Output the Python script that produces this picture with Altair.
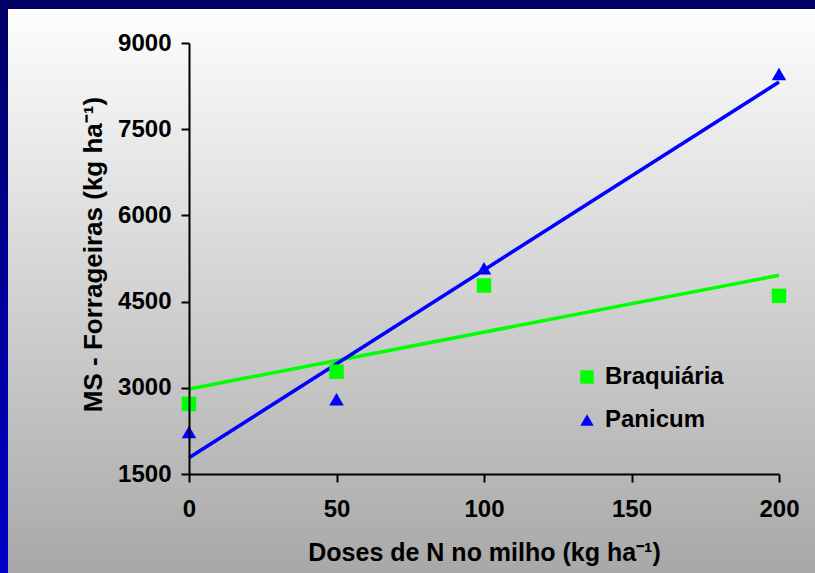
import altair as alt
import pandas as pd

doses = [0, 50, 100, 200]
braquiaria = [2720, 3280, 4780, 4600]
panicum = [2230, 2800, 5080, 8460]
series = ["Braquiária", "Panicum"]
colors = ["#00ff00", "#0000ff"]
shapes = ["square", "triangle-up"]
y_ticks = [1500, 3000, 4500, 6000, 7500, 9000]
x_ticks = [0, 50, 100, 150, 200]

rows = []
for d, v in zip(doses, braquiaria):
    rows.append({"dose": d, "ms": v, "serie": series[0], "cor": colors[0]})
for d, v in zip(doses, panicum):
    rows.append({"dose": d, "ms": v, "serie": series[1], "cor": colors[1]})
df = pd.DataFrame(rows)

FONT = "Liberation Sans"
W, H = 590, 431
PL, PT, PR, PB = 189, 43, 36, 99

one = pd.DataFrame({"a": [0]})

bg = alt.Chart(one).mark_rect(
    color=alt.LinearGradient(
        gradient="linear", x1=0, y1=0, x2=0, y2=1,
        stops=[alt.GradientStop(color="#ffffff", offset=0),
               alt.GradientStop(color="#a8a8a8", offset=1)]
    )
).encode(x=alt.value(-PL), x2=alt.value(W + PR), y=alt.value(-PT), y2=alt.value(H + PB))

top_bar = alt.Chart(one).mark_rect(color="#000066").encode(
    x=alt.value(-PL), x2=alt.value(W + PR), y=alt.value(-PT), y2=alt.value(-PT + 9))

left_bar = alt.Chart(one).mark_rect(
    color=alt.LinearGradient(
        gradient="linear", x1=0, y1=0, x2=0, y2=1,
        stops=[alt.GradientStop(color="#000066", offset=0),
               alt.GradientStop(color="#0000c8", offset=1)]
    )
).encode(x=alt.value(-PL), x2=alt.value(-PL + 8), y=alt.value(-PT), y2=alt.value(H + PB))

xenc = alt.X("dose:Q",
             scale=alt.Scale(domain=[0, 200], nice=False, zero=False),
             axis=alt.Axis(values=x_ticks, title="Doses de N no milho (kg ha⁻¹)", format="d",
                           grid=False, domainColor="black", domainWidth=2, labelFlush=False,
                           tickColor="black", tickWidth=2, tickSize=8, zindex=2,
                           labelFont=FONT, labelFontSize=24, labelFontWeight="bold",
                           labelColor="black", labelPadding=15,
                           titleFont=FONT, titleFontSize=25, titleFontWeight="bold",
                           titleColor="black", titleBaseline="alphabetic", titleY=86))
yenc = alt.Y("ms:Q",
             scale=alt.Scale(domain=[1500, 9000], nice=False, zero=False),
             axis=alt.Axis(values=y_ticks, title="MS - Forrageiras  (kg ha⁻¹)", format="d",
                           grid=False, domainColor="black", domainWidth=2, labelFlush=False,
                           tickColor="black", tickWidth=2, tickSize=8, zindex=2,
                           labelFont=FONT, labelFontSize=24, labelFontWeight="bold",
                           labelColor="black", labelPadding=10,
                           titleFont=FONT, titleFontSize=26, titleFontWeight="bold",
                           titleColor="black", titleAngle=-90, titleBaseline="alphabetic",
                           titleX=-88, titleY=211, titleAlign="center"))

color_scale = alt.Scale(domain=series, range=colors)
shape_scale = alt.Scale(domain=series, range=shapes)

legend_kw = dict(title=None, orient="none", legendX=386, legendY=322, zindex=3,
                 labelFont=FONT, labelFontSize=24, labelFontWeight=700,
                 labelColor="black", symbolSize=180,
                 rowPadding=19, labelOffset=6)

lines = alt.Chart(df).transform_regression(
    "dose", "ms", groupby=["serie", "cor"], extent=[0, 200]
).mark_line(strokeWidth=3.5, clip=False).encode(
    x=xenc, y=yenc,
    stroke=alt.Stroke("cor:N", scale=None),
    detail="serie:N",
)

points = alt.Chart(df).mark_point(filled=True, opacity=1, size=210).encode(
    x=xenc, y=yenc,
    color=alt.Color("serie:N", scale=color_scale, legend=alt.Legend(**legend_kw)),
    shape=alt.Shape("serie:N", scale=shape_scale, legend=alt.Legend(**legend_kw)),
)

chart = alt.layer(bg, top_bar, left_bar, lines, points).properties(
    width=W, height=H,
    padding={"left": PL, "top": PT, "right": PR, "bottom": PB},
    autosize=alt.AutoSizeParams(type="none"),
    background="#a8a8a8",
).configure_view(stroke=None)

chart.save("out.html", embed_options={"renderer": "svg", "actions": False})
